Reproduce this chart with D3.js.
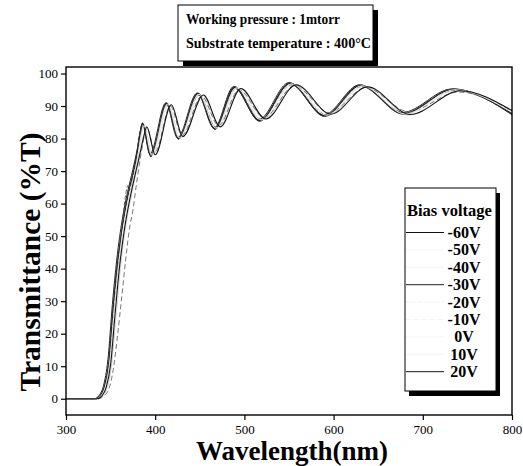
<!DOCTYPE html>
<html>
<head>
<meta charset="utf-8">
<script src="https://cdn.jsdelivr.net/npm/d3@7"></script>
<style>
  body { margin: 0; background: #fff; }
  svg { display: block; }
</style>
</head>
<body>
<div id="transmittance-bias"></div>
<script>
'use strict';

// wavelength (nm), transmittance (%T), one list per bias voltage
var seriesNames = ['-60V', '-50V', '-40V', '-30V', '-20V', '-10V', '0V', '10V', '20V'];

var tMinus60 = [[300,0],[333,0],[338,0.8],[343,3.5],[348,11],[353,28],[358,42],[364,54],[370,63],[376,70],[380,76],[383,81.5],[386,84.5],[395,74.5],[413,90.8],[426,80],[448,93.8],[467,83],[489,95.7],[517,85.5],[551,96.9],[590,87],[630,96.3],[678,87.7],[734,95],[800,87.7]];
var tMinus50 = [[300,0],[334,0],[339,0.8],[344,3.5],[349,11],[354,28],[359,42],[365,54],[371,63],[377,70],[382,76],[385,81.5],[388,84],[397,74.8],[415,90.5],[428,80.3],[450,93.5],[469,83.3],[492,95.5],[520,85.8],[554,96.6],[593,87.3],[633,96],[681,87.5],[737,94.8],[800,88.2]];
var tMinus40 = [[300,0],[335,0],[341,0.8],[346,3.2],[351,10],[356,25],[361,40],[367,53],[373,62],[379,70],[384,76],[388,81],[391,83.5],[400,75.5],[418,90.2],[431,80.8],[453,93.2],[472,83.8],[495,95.3],[523,86.2],[557,96.4],[596,87.7],[637,95.8],[685,87.2],[741,94.5],[800,88.8]];
var tMinus30 = [[300,0],[332,0],[337,1],[342,4],[347,12],[352,29],[357,43],[363,55],[369,63.5],[375,70.5],[380,77],[383,82],[385.5,84.8],[394,75.2],[412,91],[425,80.2],[447,94],[466,83.2],[488,96],[516,85.8],[550,97.2],[589,87.3],[629,96.5],[677,88],[733,95.3],[800,87.3]];
var tMinus20 = [[300,0],[334,0],[339,1],[344,4],[349,12],[354,28],[359,42],[364,56],[367,63],[369.5,65.5],[372,64],[375,68],[380,75],[383,80],[386,83.8],[395,75.5],[413,90.3],[426,80.5],[449,93.3],[468,83.5],[490,95.3],[518,86],[552,96.5],[591,87.5],[631,96],[679,88],[735,94.8],[800,88]];
var tMinus10 = [[300,0],[336,0],[342,0.8],[348,3],[353,9],[358,20],[362,30],[367,43],[371,52],[375,58],[379,66],[384,75],[388,81],[391,83],[400,76],[417,90],[430,81],[452,93],[471,84],[494,95],[522,86.5],[556,96.2],[595,88],[636,95.6],[684,88.3],[740,94.3],[800,88.5]];
var tZero = [[300,0],[333,0],[338,1],[343,3.8],[348,11.5],[353,28.5],[358,42.5],[364,54.5],[370,63.5],[376,70.5],[380,76.5],[383,81.8],[386,84.7],[395,74.8],[413,91],[426,79.8],[448,94],[467,82.8],[489,96],[517,85.3],[551,97.1],[590,86.8],[630,96.5],[678,87.5],[734,95.2],[800,87.5]];
var tPlus10 = [[300,0],[334,0],[339,0.9],[344,3.6],[349,11],[354,27],[359,41],[365,53.5],[371,62.5],[377,69.5],[381,75.5],[384,80.5],[387.5,84],[396,75],[414,90.6],[427,80.2],[449,93.6],[468,83.2],[491,95.6],[519,85.7],[553,96.8],[592,87.2],[632,96.2],[680,87.6],[736,95],[800,88]];
var tPlus20 = [[300,0],[335,0],[340,0.8],[345,3.4],[350,10.5],[355,26],[360,40.5],[366,53],[372,62],[378,69.5],[383,75.5],[387,80.5],[390.5,83.6],[400,75],[418,90.4],[431,80.6],[454,93.4],[473,83.6],[496,95.4],[524,86],[558,96.5],[597,87.5],[638,95.9],[686,87.4],[742,94.7],[800,88.6]];

var seriesValues = [tMinus60, tMinus50, tMinus40, tMinus30, tMinus20, tMinus10, tZero, tPlus10, tPlus20];

var xTicks = [300, 400, 500, 600, 700, 800];
var yTicks = [0, 10, 20, 30, 40, 50, 60, 70, 80, 90, 100];

var moduleTransmittanceBias = (function() {

    // scanned figure: only some of the traces survived as dark lines
    var strokes = ['#111', '#e4e4e4', '#d2d2d2', '#222', '#555', '#666', '#333', '#e6e6e6', '#161616'];
    var widths = [1.3, 1, 1, 1, 0.9, 0.9, 1, 1, 1.1];
    var dashes = [null, null, null, null, '4,2', '5,3', null, null, null];
    // the scan lost most legend samples, keep the three that show
    var legendStrokes = ['#111', '#f4f4f4', '#f4f4f4', '#222', '#f0f0f0', '#f4f4f4', '#f4f4f4', '#f4f4f4', '#161616'];

    var init = function() {
        var width = 523,
            height = 466;
        var margin = {top: 67, right: 11, bottom: 51, left: 66};
        var serif = '"Liberation Serif", "Times New Roman", serif';

        var svg = d3.select('#transmittance-bias').append('svg')
            .attr('width', width)
            .attr('height', height)
            .style('font-family', serif);

        var x = d3.scaleLinear()
            .domain([300, 800])
            .range([margin.left, width - margin.right]);

        var y = d3.scaleLinear()
            .domain([-5, 102])
            .range([height - margin.bottom, margin.top]);

        var line = d3.line()
            .x(function(d) { return x(d[0]); })
            .y(function(d) { return y(d[1]); })
            .curve(d3.curveMonotoneX);

        svg.append('g')
            .selectAll('path')
            .data(seriesValues)
            .enter().append('path')
            .attr('d', line)
            .attr('fill', 'none')
            .attr('stroke', function(d, i) { return strokes[i]; })
            .attr('stroke-width', function(d, i) { return widths[i]; })
            .attr('stroke-dasharray', function(d, i) { return dashes[i]; });

        // frame
        svg.append('rect')
            .attr('x', x(300))
            .attr('y', margin.top)
            .attr('width', x(800) - x(300))
            .attr('height', height - margin.bottom - margin.top)
            .attr('fill', 'none')
            .attr('stroke', '#000')
            .attr('stroke-width', 1.4);

        var xAxis = svg.append('g')
            .attr('transform', 'translate(0,' + (height - margin.bottom) + ')')
            .call(d3.axisBottom(x).tickValues(xTicks).tickSize(5).tickPadding(5));

        var yAxis = svg.append('g')
            .attr('transform', 'translate(' + margin.left + ',0)')
            .call(d3.axisLeft(y).tickValues(yTicks).tickSize(5).tickPadding(3));

        [xAxis, yAxis].forEach(function(g) {
            g.select('.domain').remove();
            g.selectAll('line').attr('stroke', '#000').attr('stroke-width', 1.2);
            g.selectAll('text')
                .attr('fill', '#000')
                .style('font-family', serif)
                .style('font-size', '13px');
        });

        svg.append('text')
            .attr('x', 292)
            .attr('y', 460)
            .attr('text-anchor', 'middle')
            .style('font-size', '27px')
            .style('font-weight', 'bold')
            .text('Wavelength(nm)');

        svg.append('text')
            .attr('transform', 'translate(40,262) rotate(-90)')
            .attr('text-anchor', 'middle')
            .style('font-size', '29.5px')
            .style('font-weight', 'bold')
            .text('Transmittance (%T)');

        // condition box on top
        var cond = svg.append('g');
        cond.append('rect')
            .attr('x', 183).attr('y', 10).attr('width', 195).attr('height', 56)
            .attr('fill', '#000');
        cond.append('rect')
            .attr('x', 178).attr('y', 5).attr('width', 195).attr('height', 56)
            .attr('fill', '#fff').attr('stroke', '#000').attr('stroke-width', 1);
        cond.append('text')
            .attr('x', 186).attr('y', 24)
            .attr('textLength', 154)
            .attr('lengthAdjust', 'spacingAndGlyphs')
            .style('font-size', '15px').style('font-weight', 'bold')
            .text('Working pressure : 1mtorr');
        cond.append('text')
            .attr('x', 186).attr('y', 48)
            .attr('textLength', 185)
            .attr('lengthAdjust', 'spacingAndGlyphs')
            .style('font-size', '15px').style('font-weight', 'bold')
            .text('Substrate temperature : 400\u00b0C');

        // legend
        var lg = svg.append('g');
        lg.append('rect')
            .attr('x', 409).attr('y', 193).attr('width', 91).attr('height', 203)
            .attr('fill', '#000');
        lg.append('rect')
            .attr('x', 405).attr('y', 188).attr('width', 91).attr('height', 203)
            .attr('fill', '#fff').attr('stroke', '#000').attr('stroke-width', 1);
        lg.append('text')
            .attr('x', 407).attr('y', 216)
            .style('font-size', '16.5px').style('font-weight', 'bold')
            .text('Bias voltage');

        var item = lg.selectAll('.item')
            .data(seriesNames)
            .enter().append('g')
            .attr('class', 'item')
            .attr('transform', function(d, i) { return 'translate(0,' + (232.5 + i * 17.4) + ')'; });

        item.append('line')
            .attr('x1', 406).attr('x2', 444)
            .attr('stroke', function(d, i) { return legendStrokes[i]; })
            .attr('stroke-width', 1)
            .attr('stroke-dasharray', function(d, i) { return dashes[i]; });

        item.append('text')
            .attr('x', 464).attr('y', 5.5)
            .attr('text-anchor', 'middle')
            .style('font-size', '16px').style('font-weight', 'bold')
            .text(function(d) { return d; });
    };

    return {
        init: init
    };
})();

moduleTransmittanceBias.init();
</script>
</body>
</html>
